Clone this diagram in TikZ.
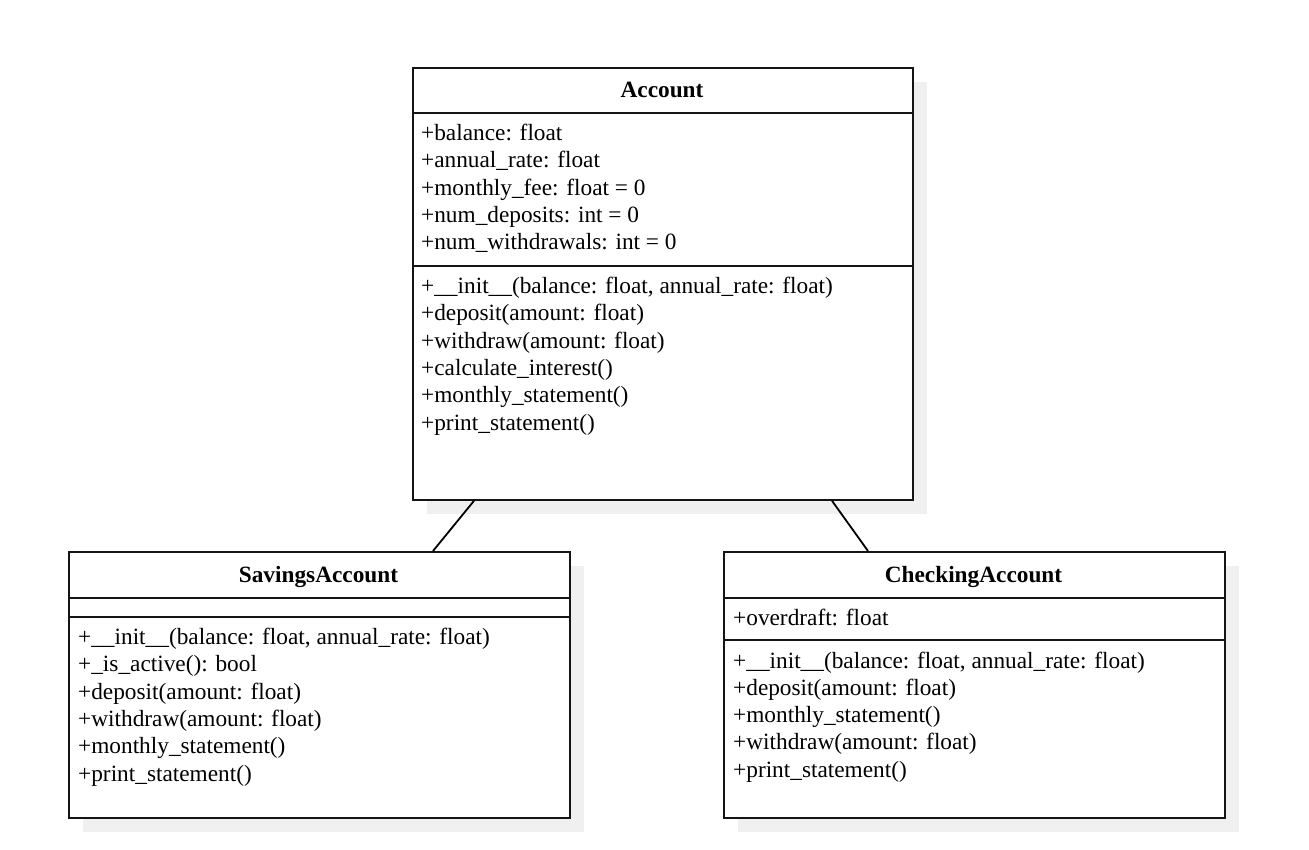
\documentclass[tikz,border=0pt]{standalone}
\usepackage{fontspec}
\setmainfont{Liberation Serif}
\usetikzlibrary{calc,shadows}
\definecolor{shadowgray}{RGB}{240,240,240}
\definecolor{linegray}{RGB}{20,20,20}
\tikzset{
  classbox/.style={draw=linegray, line width=1.8pt, fill=white, anchor=north west, inner sep=0pt,
    drop shadow={shadow xshift=14pt, shadow yshift=-14pt, fill=shadowgray, opacity=1}},
  sepline/.style={draw=linegray, line width=1.8pt},
  member/.style={anchor=base west, inner sep=0pt, font=\fontsize{23.3}{27}\selectfont},
  title/.style={anchor=base, inner sep=0pt, font=\fontsize{23.3}{27}\selectfont\bfseries},
  conn/.style={draw=black, line width=1.8pt}
}
\begin{document}
\begin{tikzpicture}[x=1pt,y=-1pt]
\useasboundingbox (0,0) rectangle (1309,850);

% ---------- Account ----------
\node[classbox, minimum width=500pt, minimum height=432pt] (acc) at (412,67) {};
\draw[sepline] (acc.west |- 0,113) -- (acc.east |- 0,113);
\draw[sepline] (acc.west |- 0,266) -- (acc.east |- 0,266);
\node[title] (acct) at (662,98) {Account};
\node[member] (acca1) at (421,140.5) {+balance: float};
\node[member] (acca2) at (421,167.8) {+annual\_rate: float};
\node[member] (acca3) at (421,195.1) {+monthly\_fee: float = 0};
\node[member] (acca4) at (421,222.4) {+num\_deposits: int = 0};
\node[member] (acca5) at (421,249.7) {+num\_withdrawals: int = 0};
\node[member] (accm1) at (421,293.5) {+\_\_init\_\_(balance: float, annual\_rate: float)};
\node[member] (accm2) at (421,320.8) {+deposit(amount: float)};
\node[member] (accm3) at (421,348.1) {+withdraw(amount: float)};
\node[member] (accm4) at (421,375.4) {+calculate\_interest()};
\node[member] (accm5) at (421,402.7) {+monthly\_statement()};
\node[member] (accm6) at (421,430.0) {+print\_statement()};

% ---------- SavingsAccount ----------
\node[classbox, minimum width=501pt, minimum height=266pt] (sav) at (68,551) {};
\draw[sepline] (sav.west |- 0,598) -- (sav.east |- 0,598);
\draw[sepline] (sav.west |- 0,617) -- (sav.east |- 0,617);
\node[title] (savt) at (318.5,582.7) {SavingsAccount};
\node[member] (savm1) at (78,644.5) {+\_\_init\_\_(balance: float, annual\_rate: float)};
\node[member] (savm2) at (78,671.8) {+\_is\_active(): bool};
\node[member] (savm3) at (78,699.1) {+deposit(amount: float)};
\node[member] (savm4) at (78,726.4) {+withdraw(amount: float)};
\node[member] (savm5) at (78,753.7) {+monthly\_statement()};
\node[member] (savm6) at (78,781.0) {+print\_statement()};

% ---------- CheckingAccount ----------
\node[classbox, minimum width=501pt, minimum height=266pt] (chk) at (723,551) {};
\draw[sepline] (chk.west |- 0,598) -- (chk.east |- 0,598);
\draw[sepline] (chk.west |- 0,640) -- (chk.east |- 0,640);
\node[title] (chkt) at (973.5,582.7) {CheckingAccount};
\node[member] (chka1) at (733,625.5) {+overdraft: float};
\node[member] (chkm1) at (733,668.0) {+\_\_init\_\_(balance: float, annual\_rate: float)};
\node[member] (chkm2) at (733,695.3) {+deposit(amount: float)};
\node[member] (chkm3) at (733,722.6) {+monthly\_statement()};
\node[member] (chkm4) at (733,749.9) {+withdraw(amount: float)};
\node[member] (chkm5) at (733,777.2) {+print\_statement()};

% ---------- connectors ----------
\draw[conn] ($(acc.south west)+(62,0)$) -- ($(sav.north west)+(365,0)$);
\draw[conn] ($(acc.south west)+(420,0)$) -- ($(chk.north west)+(145,0)$);
\end{tikzpicture}
\end{document}
